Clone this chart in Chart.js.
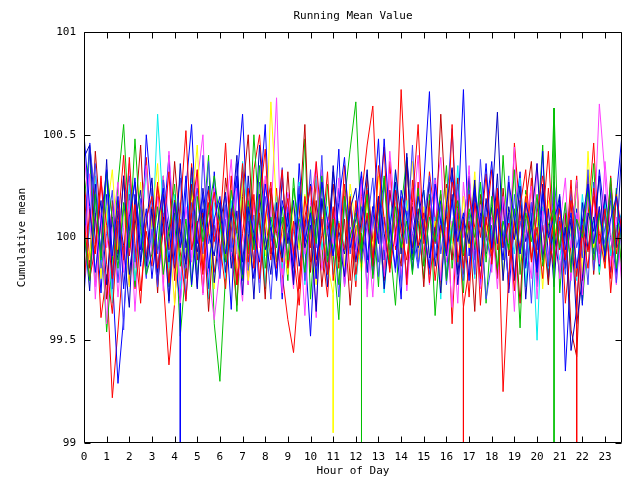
<!DOCTYPE html>
<html><head><meta charset="utf-8">
<script src="https://cdn.jsdelivr.net/npm/chart.js@4.4.1/dist/chart.umd.min.js"></script>
<style>html,body{margin:0;padding:0;background:#fff}canvas{display:block}</style>
</head><body>
<canvas id="c" width="640" height="480" style="width:640px;height:480px"></canvas>
<script>
const hours = [0,0.25,0.5,0.75,1,1.25,1.5,1.75,2,2.25,2.5,2.75,3,3.25,3.5,3.75,4,4.25,4.5,4.75,5,5.25,5.5,5.75,
6,6.25,6.5,6.75,7,7.25,7.5,7.75,8,8.25,8.5,8.75,9,9.25,9.5,9.75,10,10.25,10.5,10.75,11,11.25,11.5,11.75,
12,12.25,12.5,12.75,13,13.25,13.5,13.75,14,14.25,14.5,14.75,15,15.25,15.5,15.75,16,16.25,16.5,16.75,17,17.25,17.5,17.75,
18,18.25,18.5,18.75,19,19.25,19.5,19.75,20,20.25,20.5,20.75,21,21.25,21.5,21.75,22,22.25,22.5,22.75,23,23.25,23.5,23.75];
const xTicks = [0,1,2,3,4,5,6,7,8,9,10,11,12,13,14,15,16,17,18,19,20,21,22,23];
const yTicks = [99, 99.5, 100, 100.5, 101];

const run1 = [100.32,99.88,100.12,99.61,99.82,99.22,99.55,99.92,100.21,99.75,100.03,100.39,
99.95,100.27,99.79,99.38,99.68,100.09,99.86,100.36,100.06,99.73,100.17,99.83,
100.05,100.46,99.94,99.67,100.18,99.77,100.33,100.5,100.1,99.89,100.24,99.82,
99.6,99.44,99.79,100.08,99.88,100.28,99.95,99.71,100.14,99.85,100.35,100.03,
99.76,100.2,100.45,100.64,100.02,99.8,100.37,99.94,100.72,100.17,99.91,100.27,
99.89,100.32,100.09,99.77,100.26,99.58,100.12,99.66,99.85,100.21,99.67,100.05,
100.33,99.94,100.17,99.75,100.46,100.12,99.86,100.29,99.8,100.08,100.42,99.91,
100.18,99.68,99.97,100.3,99.79,100.1,100.46,99.92,100.2,99.73,100.06,99.86];
const run2 = [100.18,100.42,99.77,100.08,99.54,99.89,100.26,100.55,100.03,99.76,100.15,99.85,
100.09,99.94,100.3,99.76,100.12,99.52,99.86,100.23,99.82,100.05,100.4,99.58,
99.3,99.82,100.14,99.64,100.32,99.92,100.5,100.06,99.75,100.2,99.88,100.1,
99.79,100.29,99.95,100.48,99.7,100.09,99.85,100.26,99.92,99.6,100.18,100.43,
100.66,100.02,99.83,100.15,99.76,100.3,99.97,99.67,100.14,100.39,99.89,100.08,
99.8,100.21,99.62,100.02,100.35,99.85,100.12,99.73,100.29,99.94,100.18,99.68,
100.06,99.82,100.4,99.95,100.14,99.56,100.23,99.89,100.03,100.45,99.77,100.63,
99.73,100.1,99.86,100.27,99.68,100.02,100.36,99.82,100.15,99.92,100.24,99.79];
const run3 = [99.92,100.46,100.12,99.73,100.21,99.82,99.29,99.61,100.03,100.29,99.86,100.5,
100.17,99.77,100.05,100.4,99.91,99.68,100.24,100.55,99.97,100.14,99.75,100.32,
99.88,100.09,99.65,100.27,100.6,100.02,99.8,100.18,100.55,99.92,100.1,99.7,
100.15,99.79,100.36,99.95,99.52,100.08,100.29,99.85,100.05,100.43,99.76,100.2,
99.94,100.3,99.83,100.1,100.48,99.89,100.23,100.02,99.7,100.39,100.08,99.88,
100.27,100.71,99.98,100.18,99.8,100.33,100.09,100.72,99.91,100.26,99.77,100.12,
100.37,99.97,100.2,99.73,100.06,100.32,99.85,100.17,99.94,100.42,99.8,100.05,
100.21,99.35,99.86,100.14,99.67,100.26,99.92,100.33,100.08,99.83,100.2,100.5];
const run4 = [100.42,100.09,99.76,100.29,99.95,100.15,99.71,100.05,100.36,99.85,100.18,99.92,
100.1,99.79,100.3,99.97,100.2,99.67,100.06,99.88,100.27,100.5,99.83,99.6,
99.85,100.14,99.91,100.24,100.03,99.77,100.17,99.95,100.3,100.09,100.68,99.82,
100.02,99.75,100.26,99.92,100.12,99.61,100.33,99.85,100.06,100.23,99.79,100.15,
99.89,100.29,100.06,99.71,100.18,99.94,100.42,100.1,99.82,100.05,100.24,99.91,
100.14,99.77,100.2,100.39,99.88,100.08,99.68,100.27,99.95,100.17,99.75,100.03,
99.83,100.24,99.97,100.1,99.64,100.18,100.02,99.8,100.36,99.92,100.14,99.88,
100.05,100.29,99.79,100.12,99.91,100.2,100.0,100.65,100.3,99.86,100.1,99.76];
const run5 = [99.82,100.05,100.3,99.86,100.15,99.68,100.08,99.91,100.26,99.79,100.0,100.33,
99.95,100.6,100.12,99.85,100.21,99.75,100.03,100.29,99.89,100.09,99.7,100.17,
100.06,99.8,100.18,99.92,100.37,100.1,99.86,100.23,99.76,100.03,100.2,99.85,
100.12,99.89,100.27,99.77,100.05,100.3,99.94,100.15,99.82,100.08,99.95,100.21,
99.79,100.02,100.24,99.88,100.14,99.73,100.06,100.32,99.92,100.18,99.83,100.09,
100.23,99.91,100.1,99.7,100.17,99.97,100.35,99.86,100.06,99.8,100.27,99.92,
100.03,100.2,99.82,100.09,99.92,100.29,99.76,100.12,99.5,100.15,99.85,100.05,
99.89,100.14,100.0,99.79,100.21,99.95,100.08,99.83,100.18,99.91,100.05,100.12];
const run6 = [100.24,99.85,100.42,100.05,99.7,100.18,99.92,100.3,99.77,100.1,100.45,99.89,
100.15,99.73,100.21,99.94,100.37,100.03,99.8,100.26,99.89,100.12,99.64,100.06,
99.86,100.29,100.06,99.77,100.2,100.5,99.95,100.12,99.7,100.24,100.02,99.88,
100.32,99.92,100.1,100.55,99.83,100.18,99.76,100.05,100.26,99.88,100.09,99.67,
100.06,99.85,100.3,99.98,100.17,99.79,100.23,100.03,99.86,100.36,99.95,100.14,
99.76,100.18,99.97,100.6,100.1,99.89,100.29,99.82,100.08,99.64,100.21,100.0,
100.14,99.8,100.24,99.91,100.08,99.68,100.18,100.37,99.88,100.06,99.77,100.2,
99.94,100.12,99.55,99.42,100.03,100.29,99.82,100.15,99.89,100.26,99.97,100.09];
const run7 = [100.08,99.89,100.23,99.8,100.12,100.33,99.94,100.17,99.76,100.03,100.27,99.85,
100.1,100.36,99.83,100.05,99.67,100.18,99.92,100.14,100.45,99.88,100.06,99.75,
100.18,99.95,100.09,99.85,100.29,99.79,100.05,100.23,99.91,100.66,100.14,100.02,
99.82,100.15,99.94,100.21,100.03,99.77,100.1,99.88,99.72,100.08,99.86,100.26,
100.05,99.83,100.18,99.95,100.3,100.09,99.85,100.17,99.92,100.12,100.37,99.89,
100.15,99.91,100.08,99.73,100.24,100.0,99.83,100.2,99.95,100.32,99.86,100.06,
99.92,100.12,99.79,100.27,100.03,99.86,100.21,99.98,100.1,99.75,100.18,100.0,
100.14,99.88,100.06,100.24,99.82,100.42,99.95,100.09,99.85,100.17,99.92,100.03];
const run8 = [99.85,100.46,100.18,99.94,100.32,99.75,100.08,99.55,100.21,99.88,100.1,99.8,
100.24,99.92,100.12,99.68,100.05,100.29,99.85,100.17,99.76,100.4,99.97,100.09,
99.83,100.2,99.95,100.36,99.79,100.08,99.89,100.27,100.03,99.7,100.15,99.92,
100.21,99.85,100.09,99.97,100.33,99.8,100.18,100.02,99.91,100.24,99.77,100.05,
99.94,100.15,99.75,100.1,99.88,100.26,100.06,99.83,100.2,99.97,100.45,99.86,
100.09,99.82,100.29,99.92,100.14,100.53,100.03,99.79,100.23,99.89,100.1,99.7,
99.88,100.18,99.97,100.3,99.8,100.08,99.91,100.17,99.76,100.24,100.02,99.85,
100.1,99.85,100.23,99.95,100.09,99.77,100.27,99.88,100.05,100.18,99.82,100.06];
const run9 = [100.39,100.45,99.97,100.18,99.77,100.1,99.89,100.3,99.82,100.06,100.23,99.86,
100.14,99.79,100.2,100.03,99.85,100.36,99.95,100.12,99.75,100.24,100.02,99.91,
100.17,99.83,100.08,100.4,99.88,100.15,99.7,100.21,99.94,100.05,99.8,100.29,
99.97,100.18,99.86,100.06,100.26,99.89,100.09,99.76,100.32,100.03,99.92,100.14,
100.24,99.91,100.1,99.82,100.2,100.02,99.85,100.33,100.08,99.8,100.15,99.95,
100.03,100.27,99.86,100.09,99.94,100.21,99.77,100.06,100.3,99.89,100.12,99.92,
100.15,100.61,99.95,100.12,99.79,100.18,99.98,100.08,99.85,100.26,99.91,100.03,
99.82,100.05,99.45,99.65,100.17,99.94,100.1,99.86,100.21,100.0,99.83,100.15];
const run10 = [99.76,100.14,99.92,100.27,100.06,99.8,100.18,99.89,100.39,99.97,99.68,100.09,
100.2,99.85,100.03,100.32,99.79,100.14,100.52,99.94,100.08,99.82,100.23,99.98,
100.1,99.89,100.3,99.77,100.02,100.24,99.85,100.17,100.43,99.92,100.06,100.33,
99.85,100.08,99.75,100.2,99.95,100.37,100.05,99.82,100.15,99.91,100.26,99.79,
100.18,99.94,100.12,99.86,100.35,100.09,99.83,100.23,100.02,99.89,100.17,100.55,
99.97,100.15,99.79,100.06,99.92,100.27,100.14,99.85,100.21,100.05,99.8,100.1,
99.91,100.24,99.25,99.82,100.09,99.95,100.2,99.88,100.12,100.3,100.02,99.85,
100.08,99.89,100.18,99.68,100.03,99.85,100.24,99.97,100.14,99.8,100.21,100.02];
const run11 = [100.03,99.79,100.21,99.89,100.32,100.09,99.85,100.17,99.95,100.48,100.05,99.82,
99.92,100.15,99.82,100.03,100.26,99.86,100.09,99.76,100.2,99.98,100.12,100.3,
100.08,99.88,100.23,100.02,99.8,100.18,99.94,100.35,99.85,100.1,99.95,100.15,
99.89,100.24,100.05,99.83,100.15,99.97,100.3,99.88,100.09,99.77,100.2,100.0,
100.12,99.92,100.21,99.8,100.06,100.29,99.89,100.15,99.95,100.08,99.82,100.24,
99.86,100.1,99.98,100.23,99.79,100.05,100.18,99.91,100.14,100.0,100.27,99.88,
100.2,99.85,100.08,99.94,100.33,99.82,100.12,99.98,100.21,99.86,100.06,100.15,
99.95,100.17,99.83,100.09,100.0,100.23,99.89,100.12,99.92,100.29,99.85,100.08];
const run12 = [100.5,100.15,99.83,100.08,100.33,99.91,100.2,99.75,100.1,100.27,99.94,100.14,
99.8,100.06,100.24,99.88,100.17,99.95,100.3,99.77,100.05,100.21,99.85,100.09,
100.2,99.92,100.12,100.3,99.82,100.15,100.02,99.88,100.26,100.06,99.79,100.18,
100.05,99.86,100.21,99.98,100.12,99.8,100.27,100.08,99.91,100.17,100.39,99.95,
100.09,100.32,99.89,100.15,99.97,100.48,100.06,99.85,100.23,100.1,99.92,100.2,
100.03,99.85,100.26,100.08,99.91,100.18,99.98,100.12,99.79,100.23,100.05,100.36,
99.95,100.14,99.89,100.27,100.09,99.92,100.17,100.05,99.83,100.21,100.0,100.1,
100.17,99.94,100.12,99.85,100.08,100.26,99.97,100.15,99.91,100.09,100.2,99.98];
const run13 = [99.86,100.31,99.7,100.12,99.58,100.05,100.27,99.83,100.18,99.64,100.09,100.35,
99.91,100.2,99.74,100.42,100.01,99.79,100.15,99.9,100.33,99.72,100.06,100.24,
99.81,100.11,100.38,99.93,99.69,100.19,100.04,99.78,100.28,99.95,100.13,99.73,
100.22,99.88,100.07,99.62,100.17,100.36,99.84,100.1,99.97,100.29,99.76,100.04,
99.92,100.26,99.71,100.14,100.03,99.81,100.31,99.96,100.19,99.74,100.08,100.4,
99.87,100.12,100.28,99.79,100.05,99.66,100.22,100.0,100.35,99.84,100.16,99.93,
100.1,99.75,100.2,99.97,100.44,99.83,100.07,100.25,99.7,100.13,99.89,100.3,
99.8,100.16,99.95,100.28,99.72,100.06,100.19,99.87,100.37,100.02,99.77,100.12];
const run14 = [100.05,99.74,100.26,99.9,100.38,99.8,100.13,99.96,99.66,100.21,99.88,100.07,
100.29,99.83,100.1,99.69,100.18,100.02,99.87,100.34,99.93,100.08,100.25,99.78,
100.06,100.22,99.85,100.13,99.72,100.3,99.96,100.45,100.01,99.82,100.17,99.9,
100.12,99.77,100.24,99.95,100.06,99.64,100.19,99.91,100.35,100.0,99.81,100.15,
99.88,100.09,100.33,99.86,100.2,99.75,100.04,100.27,99.92,100.41,99.84,100.11,
100.23,99.9,100.05,99.73,100.16,100.34,99.82,100.1,99.97,100.28,99.86,100.19,
99.94,100.31,99.79,100.15,99.99,100.25,99.7,100.08,100.36,99.89,100.14,99.76,
100.2,99.85,100.09,99.58,99.8,100.12,100.03,100.3,99.88,100.22,99.95,100.46];
const run15 = [99.72,100.09,100.36,99.85,100.02,100.23,99.78,100.14,100.3,99.9,100.19,99.81,
100.04,99.76,100.28,100.08,99.87,100.17,99.7,100.06,100.24,99.92,100.37,100.01,
99.8,100.16,99.93,100.05,100.32,99.84,100.11,99.73,100.2,99.98,100.07,100.34,
99.86,100.03,100.25,99.79,100.12,99.95,100.4,99.83,100.06,99.71,100.18,99.92,
100.15,99.87,100.06,100.29,99.81,100.1,99.94,100.22,99.76,100.13,100.02,99.85,
100.08,100.3,99.9,100.16,99.77,100.05,100.26,99.93,100.12,99.82,100.38,100.0,
99.89,100.14,100.03,99.78,100.21,99.92,100.09,99.68,100.18,100.06,99.86,100.27,
100.03,99.82,100.19,100.07,99.9,100.33,99.84,100.11,99.97,100.25,99.78,100.14];
const run16 = [100.1,99.8,99.95,100.3,99.87,99.63,100.06,100.4,99.91,100.16,99.74,100.03,
99.86,100.25,100.07,99.78,100.18,99.93,99.69,100.12,100.33,99.84,100.05,100.22,
99.97,99.75,100.14,100.02,100.36,99.88,100.21,99.8,100.09,100.27,99.85,100.04,
100.19,99.92,99.67,100.1,100.25,99.86,100.01,100.32,99.79,100.07,99.94,100.2,
99.82,100.06,100.23,99.9,100.14,100.44,99.85,100.02,100.19,99.77,100.28,99.96,
100.12,99.78,100.04,100.21,99.92,100.55,99.88,100.09,99.71,100.17,100.0,100.31,
99.87,100.2,99.95,100.07,99.74,100.15,100.33,99.9,100.05,99.8,100.24,99.97,
100.14,99.9,100.28,99.81,100.06,99.93,100.2,100.02,99.85,100.3,99.92,100.11];

const runs = [run1, run2, run3, run4, run5, run6, run7, run8, run9, run13, run14, run15, run16, run10, run11, run12];
const runColors = ['#ff0000','#00c000','#0000ff','#ff40ff','#00eeee','#c00000','#ffff00','#4040ff','#0000c0',
  '#ff40ff','#0000c0','#4040ff','#ff0000','#ff0000','#00c000','#0000ff'];

// sudden drops below the axis (hour, value before drop, value reached)
const dropHours = [4.25, 11.0, 12.25, 16.75, 20.75, 21.75];
const dropFrom = [99.68, 99.72, 100.02, 99.66, 100.63, 99.68];
const dropTo = [98.5, 99.05, 98.5, 98.5, 98.5, 98.5];
const dropColors = ['#0000ff','#ffff00','#00c000','#ff0000','#00c000','#ff0000'];

const datasets = runs.map((vals, i) => ({
  data: vals.map((v, k) => ({x: hours[k], y: v})),
  borderColor: runColors[i], borderWidth: 1, pointRadius: 0, fill: false, tension: 0,
  order: 100 - i
}));
dropHours.forEach((h, i) => datasets.push({
  data: [{x: h, y: dropFrom[i]}, {x: h, y: dropTo[i]}],
  borderColor: dropColors[i], borderWidth: 1, pointRadius: 0, fill: false, order: 0
}));

const FONT = 'DejaVu Sans Mono';
const frame = {
  id: 'frame',
  afterDatasetsDraw(chart) {
    const {ctx, chartArea: a, scales} = chart;
    const x = scales.x, y = scales.y;
    const L = Math.round(a.left) + 0.5, R = Math.round(a.right) - 0.5;
    const T = Math.round(a.top) + 0.5, B = Math.round(a.bottom) - 0.5;
    ctx.save();
    ctx.strokeStyle = '#000'; ctx.lineWidth = 1;
    ctx.beginPath();
    ctx.rect(L, T, R - L, B - T);
    xTicks.forEach(v => {
      const px = Math.round(x.getPixelForValue(v)) + 0.5;
      ctx.moveTo(px, B); ctx.lineTo(px, B - 6);
      ctx.moveTo(px, T); ctx.lineTo(px, T + 6);
    });
    yTicks.forEach(v => {
      const py = Math.round(y.getPixelForValue(v)) + 0.5;
      ctx.moveTo(L, py); ctx.lineTo(L + 6, py);
      ctx.moveTo(R, py); ctx.lineTo(R - 6, py);
    });
    ctx.stroke();
    ctx.restore();
  }
};

new Chart(document.getElementById('c'), {
  type: 'line',
  data: {datasets},
  options: {
    responsive: false, animation: false, devicePixelRatio: 1,
    events: [],
    layout: {padding: {left: 0, right: 18, top: 0, bottom: 0}},
    plugins: {
      legend: {display: false}, tooltip: {enabled: false},
      title: {display: true, text: 'Running Mean Value', fullSize: false, color: '#000',
        font: {family: FONT, size: 11, weight: 'normal', lineHeight: 1.2},
        padding: {top: 10, bottom: 8.8}}
    },
    scales: {
      x: {
        type: 'linear', min: 0, max: 23.75,
        afterBuildTicks: s => { s.ticks = xTicks.map(v => ({value: v})); },
        afterFit: s => { s.height = 37; },
        grid: {display: false, drawTicks: false}, border: {display: false},
        ticks: {color: '#000', font: {family: FONT, size: 11}, padding: 8, maxRotation: 0, autoSkip: false,
          callback: v => String(v)},
        title: {display: true, text: 'Hour of Day', color: '#000', font: {family: FONT, size: 11}, padding: {top: 0, bottom: 2}}
      },
      y: {
        type: 'linear', min: 99, max: 101,
        afterBuildTicks: s => { s.ticks = yTicks.map(v => ({value: v})); },
        afterFit: s => { s.width = 84; },
        grid: {display: false, drawTicks: false}, border: {display: false},
        ticks: {color: '#000', font: {family: FONT, size: 11}, padding: 8, callback: v => String(v)},
        title: {display: true, text: 'Cumulative mean', color: '#000', font: {family: FONT, size: 11}, padding: {top: 16, bottom: 0}}
      }
    }
  },
  plugins: [frame]
});
</script>
</body></html>
